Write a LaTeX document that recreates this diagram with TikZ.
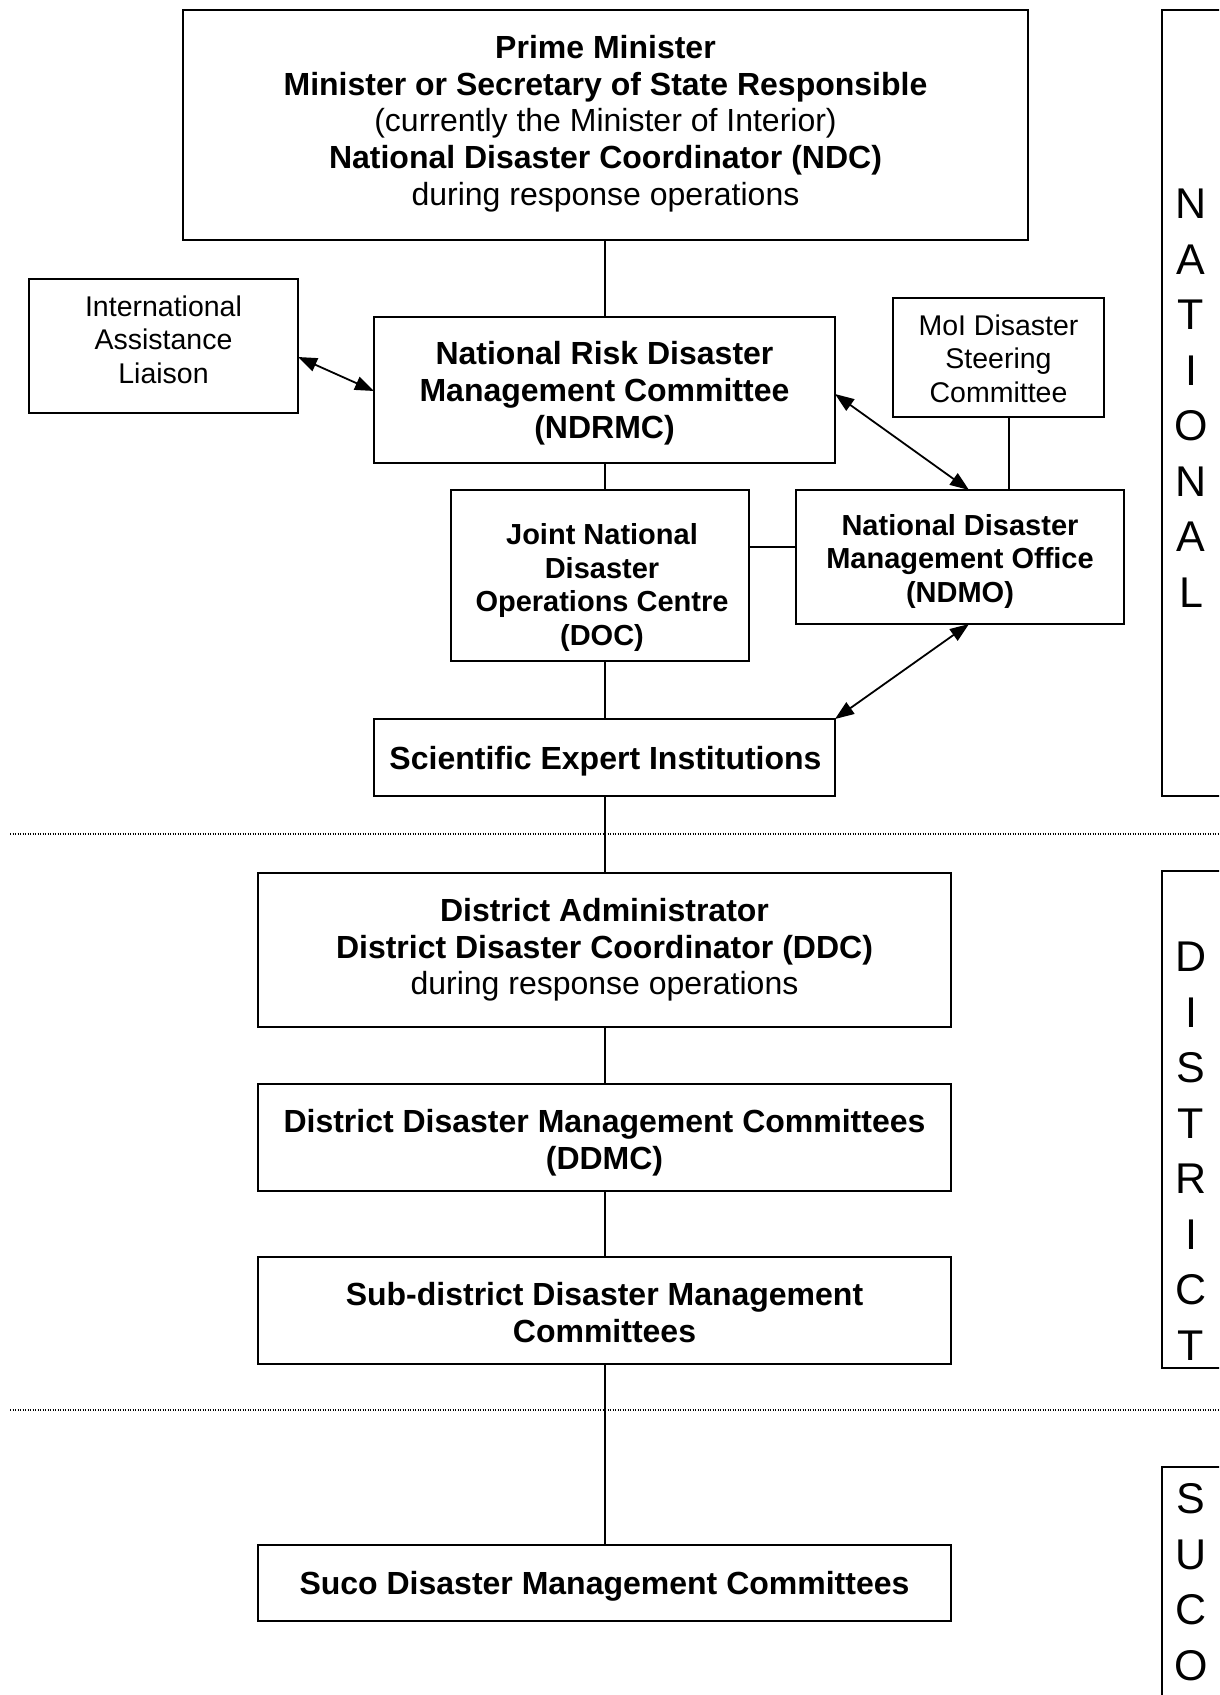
\documentclass[tikz,border=0pt]{standalone}
\usepackage{fontspec}
\setmainfont{Liberation Sans}
\usetikzlibrary{arrows.meta}
\tikzset{
  box/.style={draw, line width=1.4pt, inner sep=0pt, outer sep=0pt},
  txt/.style={align=center, inner sep=0pt},
  bigfont/.style={font=\fontsize{32}{36.7}\selectfont},
  midfont/.style={font=\fontsize{29}{33.5}\selectfont},
  smallfont/.style={font=\fontsize{28.5}{33.5}\selectfont},
  sidefont/.style={font=\fontsize{43}{55.5}\selectfont},
  link/.style={line width=1.4pt},
  dbl/.style={line width=1.8pt, {Triangle[length=19pt,width=14pt]}-{Triangle[length=19pt,width=14pt]}},
  sep/.style={line width=1.1pt, dash pattern=on 1.1pt off 1.4pt},
}
\begin{document}
\begin{tikzpicture}[x=1pt,y=-1pt]
\useasboundingbox (0,0) rectangle (1219,1695);
\clip (0,0) rectangle (1219,1695);
\fill[white] (0,0) rectangle (1219,1695);

% national level boxes
\node[box,minimum width=845pt,minimum height=230pt] (pm) at (605.5,125) {};
\node[box,minimum width=269pt,minimum height=134pt] (intl) at (163.5,346) {};
\node[box,minimum width=461pt,minimum height=146pt] (ndrmc) at (604.5,390) {};
\node[box,minimum width=211pt,minimum height=119pt] (moi) at (998.5,357.5) {};
\node[box,minimum width=298pt,minimum height=171pt] (jdoc) at (600,575.5) {};
\node[box,minimum width=328pt,minimum height=134pt] (ndmo) at (960,557) {};
\node[box,minimum width=461pt,minimum height=77pt] (sci) at (604.5,757.5) {};
% district and suco boxes
\node[box,minimum width=693pt,minimum height=154pt] (da) at (604.5,950) {};
\node[box,minimum width=693pt,minimum height=107pt] (ddmc) at (604.5,1137.5) {};
\node[box,minimum width=693pt,minimum height=107pt] (sub) at (604.5,1310.5) {};
\node[box,minimum width=693pt,minimum height=76pt] (suco) at (604.5,1583) {};

% texts
\node[txt,bigfont] (pmtext) at (605.5,134.7)
 {\textbf{Prime Minister}\\\textbf{Minister or Secretary of State Responsible}\\(currently the Minister of Interior)\\\textbf{National Disaster Coordinator (NDC)}\\during response operations\\[-8pt]};
\node[txt,smallfont] (intltext) at (163.5,361.1)
 {International\\Assistance\\Liaison\\[10pt]};
\node[txt,bigfont] (ndrmctext) at (604.5,393.3)
 {\textbf{National Risk Disaster}\\\textbf{Management Committee}\\\textbf{(NDRMC)}};
\node[txt,smallfont] (moitext) at (998.5,358.6)
 {MoI Disaster\\Steering\\Committee};
\node[txt,midfont] (jdoctext) at (602,587.3)
 {\textbf{Joint National}\\\textbf{Disaster}\\\textbf{Operations Centre}\\\textbf{(DOC)}};
\node[txt,midfont] (ndmotext) at (960,561.3)
 {\textbf{National Disaster}\\\textbf{Management Office}\\\textbf{(NDMO)}};
\node[txt,bigfont] (scitext) at (605.5,760.8)
 {\textbf{Scientific Expert Institutions}};
\node[txt,bigfont] (datext) at (604.5,950)
 {\textbf{District Administrator}\\\textbf{District Disaster Coordinator (DDC)}\\during response operations};
\node[txt,bigfont] (ddmctext) at (604.5,1142.9)
 {\textbf{District Disaster Management Committees}\\\textbf{(DDMC)}};
\node[txt,bigfont] (subtext) at (604.5,1312.7)
 {\textbf{Sub-district Disaster Management}\\\textbf{Committees}};
\node[txt,bigfont] (sucotext) at (604.5,1586.3)
 {\textbf{Suco Disaster Management Committees}};

% side labels
\node[box,minimum width=90pt,minimum height=786pt] (natbox) at (1207,403) {};
\node[txt,sidefont] (natlbl) at (1191,398)
 {N\\A\\T\\I\\O\\N\\A\\L};
\node[box,minimum width=90pt,minimum height=497pt] (disbox) at (1207,1119.5) {};
\node[txt,sidefont] (dislbl) at (1191,1151)
 {D\\I\\S\\T\\R\\I\\C\\T};
\node[box,minimum width=90pt,minimum height=300pt] (sucbox) at (1207,1617) {};
\node[txt,sidefont] (suclbl) at (1191,1582)
 {S\\U\\C\\O};

% level separators
\coordinate (s1l) at (10,834);
\coordinate (s1r) at (1219,834);
\coordinate (s2l) at (10,1410);
\coordinate (s2r) at (1219,1410);
\draw[sep] (s1l) -- (s1r);
\draw[sep] (s2l) -- (s2r);

% spine connectors
\coordinate (jn) at (0,547);
\coordinate (mx) at (1009,0);
\coordinate (sp) at (605,0);
\draw[link] (pm.south -| sp) -- (ndrmc.north -| sp);
\draw[link] (ndrmc.south -| sp) -- (jdoc.north -| sp);
\draw[link] (jdoc.south -| sp) -- (sci.north -| sp);
\draw[link] (sci.south -| sp) -- (da.north -| sp);
\draw[link] (da.south -| sp) -- (ddmc.north -| sp);
\draw[link] (ddmc.south -| sp) -- (sub.north -| sp);
\draw[link] (sub.south -| sp) -- (suco.north -| sp);
\draw[link] (jdoc.east |- jn) -- (ndmo.west |- jn);
\draw[link] (moi.south -| mx) -- (ndmo.north -| mx);

% two-way arrows
\draw[dbl] ([yshift=-11pt]intl.east) -- ([yshift=-1pt]ndrmc.west);
\draw[dbl] ([yshift=-4pt]ndrmc.east) -- ([xshift=9pt]ndmo.north);
\draw[dbl] ([xshift=9pt]ndmo.south) -- (sci.north east);
\end{tikzpicture}
\end{document}
